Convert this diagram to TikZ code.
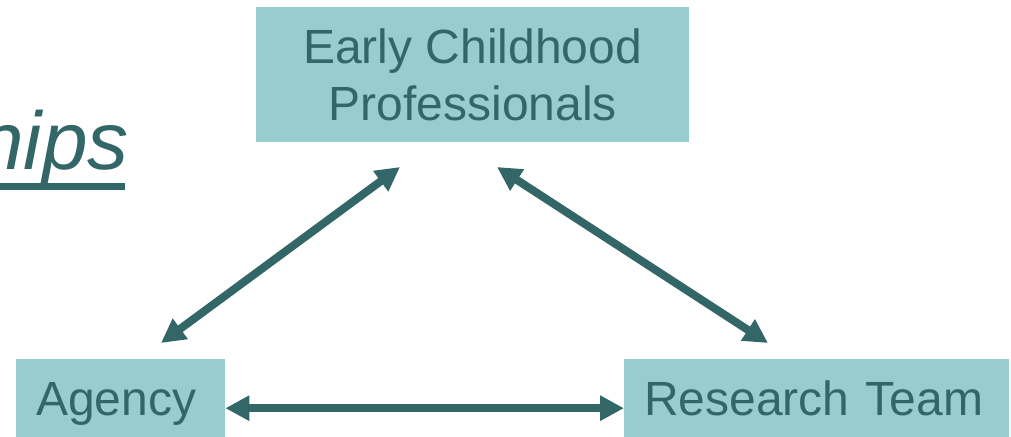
\documentclass[tikz,border=0pt]{standalone}
\usepackage{fontspec}
\setmainfont{Liberation Sans}
\usetikzlibrary{arrows.meta}
\definecolor{boxfill}{HTML}{99CCCC}
\definecolor{teal}{HTML}{336666}
\begin{document}
\begin{tikzpicture}[x=1pt,y=-1pt,
  box/.style={fill=boxfill,text=teal,inner sep=0pt,
    font=\fontsize{48}{57}\selectfont},
  link/.style={draw=teal,line width=8pt,
    {Triangle[length=24pt,width=24pt]}-{Triangle[length=24pt,width=24pt]}}]
\useasboundingbox (0,0) rectangle (1011,436);
\clip (0,0) rectangle (1011,436);

% heading, running off the left edge
\node[text=teal,font=\fontsize{82}{98}\selectfont\itshape,
  anchor=base east,inner sep=0pt] (heading) at (129,169) {hips};
\fill[teal] (0,183) rectangle (125,190);

% the three parties
\node[box,anchor=north west,minimum width=433pt,minimum height=135pt,
  align=center] (ecp) at (256,7) {Early Childhood\\Professionals};
\node[box,anchor=north west,minimum width=209pt,minimum height=98pt,
  text width=169pt,align=left,inner xsep=20pt,
  text height=33pt,text depth=19pt] (agency) at (16,359) {Agency};
\node[box,anchor=north west,minimum width=385pt,minimum height=98pt,
  text width=345pt,align=left,inner xsep=20pt,
  text height=33pt,text depth=19pt] (team) at (624,359) {Research Team};

% arrow ends beside the boxes
\coordinate (ecpL) at (400,167);
\coordinate (ecpR) at (497,167);
\coordinate (agencyT) at (161,343);
\coordinate (teamT) at (768,343);

% two-way links
\draw[link] (agencyT) -- (ecpL);
\draw[link] (ecpR) -- (teamT);
\draw[link] (agency.east) -- (team.west);
\end{tikzpicture}
\end{document}
